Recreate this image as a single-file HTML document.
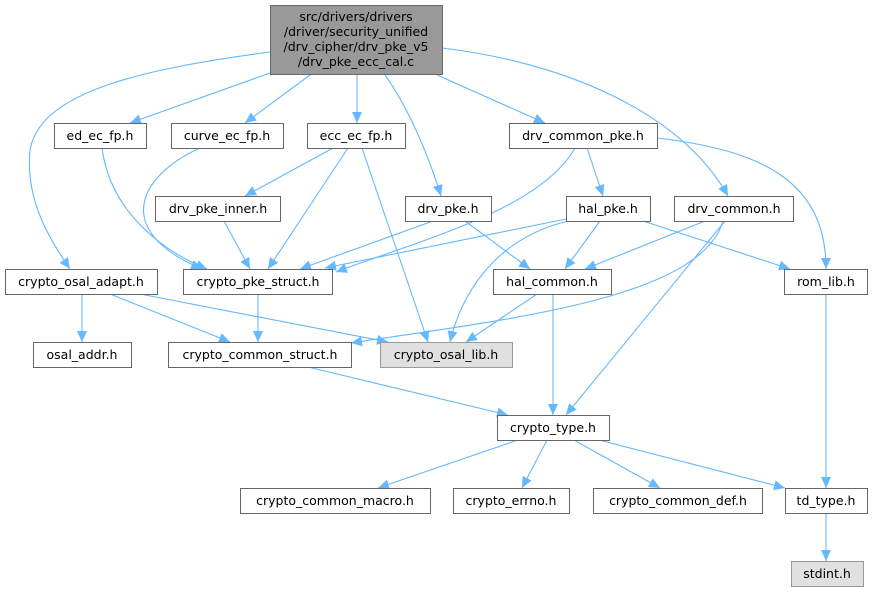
<!DOCTYPE html>
<html><head><meta charset="utf-8"><style>
html,body{margin:0;padding:0;background:#fff;width:873px;height:593px;overflow:hidden}
svg{display:block}
text{font-family:"DejaVu Sans","Liberation Sans",sans-serif;font-size:12.5px;fill:#000}
.n{fill:#fff;stroke:#666;stroke-width:1}
.g{fill:#e0e0e0;stroke:#999;stroke-width:1}
.e{fill:none;stroke:#63b8ff;stroke-width:1.1}
</style></head><body>
<svg width="873" height="593" viewBox="0 0 873 593" xmlns="http://www.w3.org/2000/svg">
<defs><marker id="a" markerUnits="userSpaceOnUse" markerWidth="12" markerHeight="10" refX="11" refY="5" orient="auto"><path d="M0,0 L11,5 L0,10 Z" fill="#63b8ff"/></marker></defs>
<g class="e" marker-end="url(#a)">
<path d="M270,73 L130,123"/>
<path d="M310,75 L245,123"/>
<path d="M357,75 L357,123"/>
<path d="M385,75 C410,110 430,160 441,196"/>
<path d="M437,75 L545,123"/>
<path d="M442,48 C560,62 680,110 728,196"/>
<path d="M270,52 C150,68 40,90 30,150 C25,200 50,240 70,269"/>
<path d="M102,148 C110,210 160,250 207,269"/>
<path d="M200,148 C140,175 110,230 202,269"/>
<path d="M333,148 L245,196"/>
<path d="M348,148 L268,269"/>
<path d="M362,148 L428,342"/>
<path d="M575,148 C540,210 420,240 336,272"/>
<path d="M587,148 L603,196"/>
<path d="M657,138 C760,150 826,180 826,269"/>
<path d="M224,221 L250,269"/>
<path d="M433,221 L300,269"/>
<path d="M465,221 L530,269"/>
<path d="M566,219 L325,268"/>
<path d="M568,221 C490,240 460,300 450,342"/>
<path d="M600,221 L565,269"/>
<path d="M643,221 L790,269"/>
<path d="M705,221 L585,269"/>
<path d="M723,221 C700,300 500,320 351,343"/>
<path d="M725,221 L566,415"/>
<path d="M537,294 L466,342"/>
<path d="M553,294 L553,415"/>
<path d="M82,294 L82,342"/>
<path d="M110,294 L230,342"/>
<path d="M140,294 L388,342"/>
<path d="M258,294 L258,342"/>
<path d="M308,367 L508,415"/>
<path d="M518,440 L378,488"/>
<path d="M547,440 L522,488"/>
<path d="M574,440 L660,488"/>
<path d="M599,440 L785,488"/>
<path d="M826,294 L826,488"/>
<path d="M826,513 L826,561"/>
</g>
<rect x="270.5" y="5.5" width="172" height="69" fill="#999" stroke="#666"/>
<text x="356" y="21" text-anchor="middle">src/drivers/drivers</text>
<text x="356" y="36" text-anchor="middle">/driver/security_unified</text>
<text x="356" y="51" text-anchor="middle">/drv_cipher/drv_pke_v5</text>
<text x="356" y="66" text-anchor="middle">/drv_pke_ecc_cal.c</text>
<g>
<rect class="n" x="54.5" y="123.5" width="92" height="25"/><text x="100" y="140" text-anchor="middle">ed_ec_fp.h</text>
<rect class="n" x="171.5" y="123.5" width="112" height="25"/><text x="227" y="140" text-anchor="middle">curve_ec_fp.h</text>
<rect class="n" x="307.5" y="123.5" width="98" height="25"/><text x="356" y="140" text-anchor="middle">ecc_ec_fp.h</text>
<rect class="n" x="509.5" y="123.5" width="148" height="25"/><text x="583" y="140" text-anchor="middle">drv_common_pke.h</text>
<rect class="n" x="155.5" y="196.5" width="125" height="25"/><text x="218" y="213" text-anchor="middle">drv_pke_inner.h</text>
<rect class="n" x="405.5" y="196.5" width="86" height="25"/><text x="448" y="213" text-anchor="middle">drv_pke.h</text>
<rect class="n" x="566.5" y="196.5" width="84" height="25"/><text x="608" y="213" text-anchor="middle">hal_pke.h</text>
<rect class="n" x="674.5" y="196.5" width="119" height="25"/><text x="734" y="213" text-anchor="middle">drv_common.h</text>
<rect class="n" x="5.5" y="269.5" width="152" height="25"/><text x="81" y="286" text-anchor="middle">crypto_osal_adapt.h</text>
<rect class="n" x="183.5" y="269.5" width="149" height="25"/><text x="258" y="286" text-anchor="middle">crypto_pke_struct.h</text>
<rect class="n" x="493.5" y="269.5" width="118" height="25"/><text x="552" y="286" text-anchor="middle">hal_common.h</text>
<rect class="n" x="784.5" y="269.5" width="83" height="25"/><text x="826" y="286" text-anchor="middle">rom_lib.h</text>
<rect class="n" x="33.5" y="342.5" width="98" height="25"/><text x="82" y="359" text-anchor="middle">osal_addr.h</text>
<rect class="n" x="168.5" y="342.5" width="183" height="25"/><text x="260" y="359" text-anchor="middle">crypto_common_struct.h</text>
<rect class="g" x="380.5" y="342.5" width="132" height="25"/><text x="446" y="359" text-anchor="middle">crypto_osal_lib.h</text>
<rect class="n" x="497.5" y="415.5" width="112" height="25"/><text x="553" y="432" text-anchor="middle">crypto_type.h</text>
<rect class="n" x="240.5" y="488.5" width="190" height="25"/><text x="335" y="505" text-anchor="middle">crypto_common_macro.h</text>
<rect class="n" x="453.5" y="488.5" width="116" height="25"/><text x="511" y="505" text-anchor="middle">crypto_errno.h</text>
<rect class="n" x="593.5" y="488.5" width="169" height="25"/><text x="678" y="505" text-anchor="middle">crypto_common_def.h</text>
<rect class="n" x="785.5" y="488.5" width="82" height="25"/><text x="826" y="505" text-anchor="middle">td_type.h</text>
<rect class="g" x="791.5" y="561.5" width="72" height="25"/><text x="827" y="578" text-anchor="middle">stdint.h</text>
</g>
</svg>
</body></html>
